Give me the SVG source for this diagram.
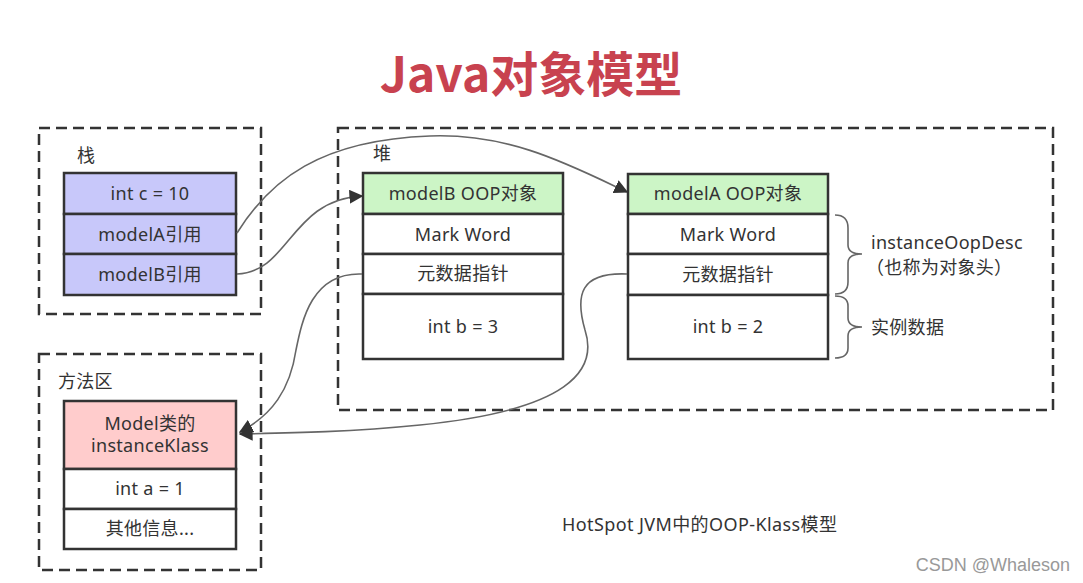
<svg xmlns="http://www.w3.org/2000/svg" width="1083" height="583" viewBox="0 0 1083 583">
<defs>
<marker id="arr" viewBox="0 0 10 10" refX="9" refY="5" markerWidth="14" markerHeight="14" markerUnits="userSpaceOnUse" orient="auto">
<path d="M0 0 L10 5 L0 10 Z" fill="#333"/>
</marker>
<style>
.t{font-family:"Noto Sans","Noto Sans CJK SC",sans-serif;font-size:18px;letter-spacing:0.3px;fill:#333;text-anchor:middle;dominant-baseline:central}
.l{font-family:"Noto Sans","Noto Sans CJK SC",sans-serif;font-size:18px;letter-spacing:0.3px;fill:#333;dominant-baseline:central}
.zone{fill:none;stroke:#333;stroke-width:2.5;stroke-dasharray:11 6}
.cell{stroke:#333;stroke-width:2.5}
.conn{fill:none;stroke:#666;stroke-width:1.6}
.brace{fill:none;stroke:#666;stroke-width:1.6}
</style>
</defs>
<rect width="1083" height="583" fill="#fff"/>
<text x="531" y="71" font-family="'Noto Sans CJK SC','Noto Sans',sans-serif" font-weight="bold" font-size="48" fill="#c8424f" text-anchor="middle" dominant-baseline="central">Java对象模型</text>

<g id="stack">
<rect class="zone" x="39" y="128" width="222" height="186"/>
<text class="l" x="77" y="155">栈</text>
<rect class="cell" x="64" y="173" width="172" height="41" fill="#c8c8fa"/>
<rect class="cell" x="64" y="214" width="172" height="40" fill="#c8c8fa"/>
<rect class="cell" x="64" y="254" width="172" height="41" fill="#c8c8fa"/>
<text class="t" x="150" y="193">int c = 10</text>
<text class="t" x="150" y="234">modelA引用</text>
<text class="t" x="150" y="274">modelB引用</text>
</g>

<g id="heap">
<rect class="zone" x="338" y="128" width="715" height="282"/>
<text class="l" x="373" y="153">堆</text>
</g>

<g id="modelB">
<rect class="cell" x="363" y="173" width="200" height="41" fill="#ccf5c6"/>
<rect class="cell" x="363" y="214" width="200" height="40" fill="#fff"/>
<rect class="cell" x="363" y="254" width="200" height="40" fill="#fff"/>
<rect class="cell" x="363" y="294" width="200" height="65" fill="#fff"/>
<text class="t" x="463" y="193">modelB OOP对象</text>
<text class="t" x="463" y="234">Mark Word</text>
<text class="t" x="463" y="273">元数据指针</text>
<text class="t" x="463" y="326">int b = 3</text>
</g>

<g id="modelA">
<rect class="cell" x="628" y="174" width="200" height="40" fill="#ccf5c6"/>
<rect class="cell" x="628" y="214" width="200" height="40" fill="#fff"/>
<rect class="cell" x="628" y="254" width="200" height="41" fill="#fff"/>
<rect class="cell" x="628" y="295" width="200" height="64" fill="#fff"/>
<text class="t" x="728" y="193">modelA OOP对象</text>
<text class="t" x="728" y="234">Mark Word</text>
<text class="t" x="728" y="274">元数据指针</text>
<text class="t" x="728" y="326">int b = 2</text>
</g>

<g id="header-label">
<path class="brace" d="M835 215 Q848 215 848 228 L848 245 Q848 254 862 254 Q848 254 848 263 L848 282 Q848 294 835 294"/>
<text class="l" x="871" y="242">instanceOopDesc</text>
<text class="l" x="866" y="267">（也称为对象头）</text>
</g>

<g id="data-label">
<path class="brace" d="M835 296 Q848 296 848 306 L848 318 Q848 327 862 327 Q848 327 848 336 L848 348 Q848 358 835 358"/>
<text class="l" x="871" y="327">实例数据</text>
</g>

<g id="method">
<rect class="zone" x="39" y="354" width="222" height="216"/>
<text class="l" x="58" y="381">方法区</text>
<rect class="cell" x="64" y="401" width="172" height="68" fill="#ffcccc"/>
<rect class="cell" x="64" y="469" width="172" height="40" fill="#fff"/>
<rect class="cell" x="64" y="509" width="172" height="40" fill="#fff"/>
<text class="t" x="150" y="423">Model类的</text>
<text class="t" x="150" y="445">instanceKlass</text>
<text class="t" x="150" y="488">int a = 1</text>
<text class="t" x="150" y="528">其他信息...</text>
</g>

<g id="connectors">
<path class="conn" marker-end="url(#arr)" d="M237 233 C270 180 320 140 430 136 C510 133 570 165 627 192"/>
<path class="conn" marker-end="url(#arr)" d="M237 274 C290 272 290 200 362 196"/>
<path class="conn" marker-end="url(#arr)" d="M362 274 C312 272 302 320 296 350 C290 390 272 415 240 432"/>
<path class="conn" marker-end="url(#arr)" d="M627 274 C580 272 575 295 585 330 C598 370 570 410 420 425 C350 432 290 433 240 434"/>
</g>

<text x="562" y="524" font-family="'Noto Sans','Noto Sans CJK SC',sans-serif" font-size="18" letter-spacing="0.4" fill="#333" dominant-baseline="central">HotSpot JVM中的OOP-Klass模型</text>
<text x="1070" y="565" font-family="'Liberation Sans',sans-serif" font-size="18" fill="#999" text-anchor="end" dominant-baseline="central">CSDN @Whaleson</text>
</svg>
